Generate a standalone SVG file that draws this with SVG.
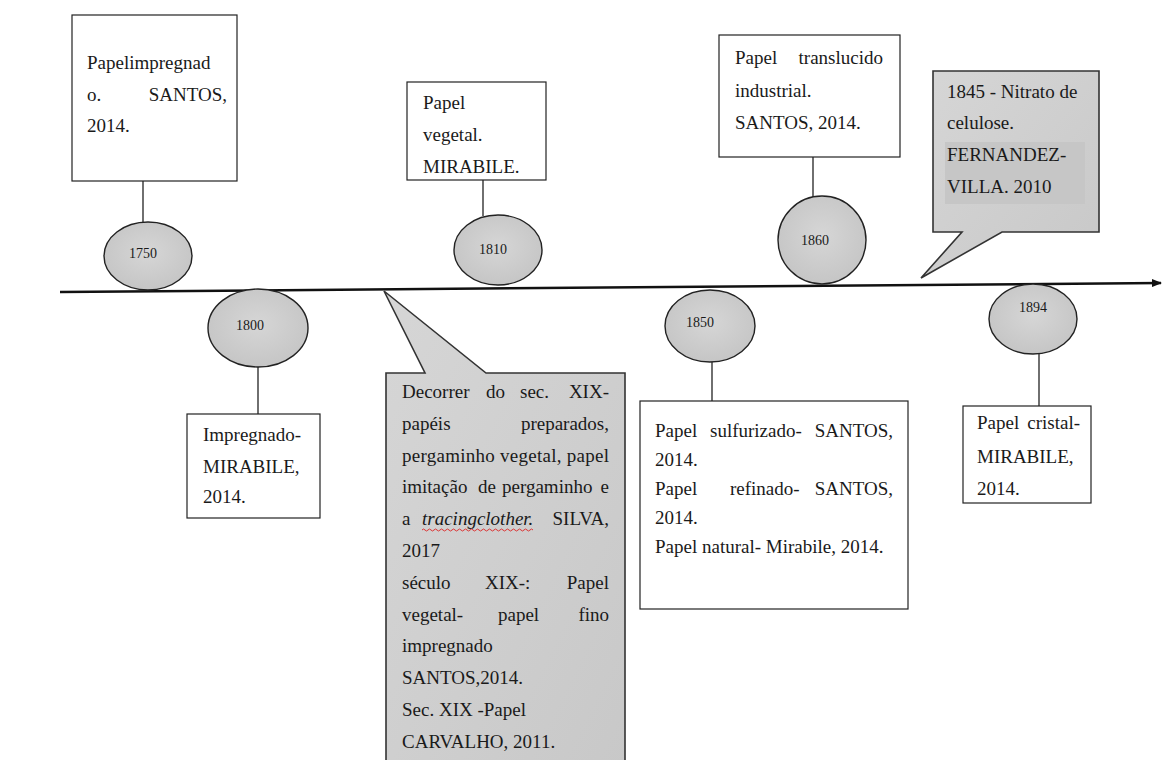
<svg xmlns="http://www.w3.org/2000/svg" width="1163" height="760" viewBox="0 0 1163 760">
<style>
.t{font-family:"Liberation Serif","Times New Roman",serif;font-size:19px;fill:#1a1a1a}
.y{font-family:"Liberation Serif","Times New Roman",serif;font-size:14px;fill:#1a1a1a;text-anchor:middle}
.e{text-anchor:end}
.box{fill:#fff;stroke:#222;stroke-width:1.2}
.ell{fill:url(#eg);stroke:#222;stroke-width:1.4}
.call{fill:url(#cg);stroke:#333;stroke-width:1.6}
.ln{stroke:#222;stroke-width:1.3;fill:none}
</style>
<defs>
<radialGradient id="eg" cx="50%" cy="45%" r="60%"><stop offset="0" stop-color="#d6d6d6"/><stop offset="1" stop-color="#c4c4c4"/></radialGradient>
<linearGradient id="cg" x1="0" y1="0" x2="1" y2="1"><stop offset="0" stop-color="#d6d6d6"/><stop offset="1" stop-color="#c8c8c8"/></linearGradient>
<marker id="ah" markerWidth="10" markerHeight="8" refX="9" refY="4" orient="auto" markerUnits="userSpaceOnUse"><path d="M0,0 L10,4 L0,8 Z" fill="#111"/></marker>
</defs>
<rect width="1163" height="760" fill="#fff"/>

<g id="connectors">
<line x1="60" y1="292" x2="1161" y2="283" stroke="#111" stroke-width="2.5" marker-end="url(#ah)"/>
<line class="ln" x1="143" y1="181" x2="143" y2="222"/>
<line class="ln" x1="258" y1="367" x2="258" y2="414"/>
<line class="ln" x1="483" y1="180" x2="483" y2="216"/>
<line class="ln" x1="712" y1="362" x2="712" y2="401"/>
<line class="ln" x1="813" y1="157" x2="813" y2="197"/>
<line class="ln" x1="1039" y1="354" x2="1039" y2="406"/>
</g>

<g id="y1750"><ellipse class="ell" cx="148" cy="256" rx="44" ry="34"/><text class="y" x="143" y="258">1750</text></g>
<g id="y1800"><ellipse class="ell" cx="258" cy="328" rx="50" ry="39"/><text class="y" x="250" y="330">1800</text></g>
<g id="y1810"><ellipse class="ell" cx="498" cy="250" rx="44" ry="35"/><text class="y" x="493" y="254">1810</text></g>
<g id="y1850"><ellipse class="ell" cx="710" cy="326" rx="45" ry="36"/><text class="y" x="700" y="327">1850</text></g>
<g id="y1860"><ellipse class="ell" cx="822" cy="240" rx="44" ry="44"/><text class="y" x="815" y="245">1860</text></g>
<g id="y1894"><ellipse class="ell" cx="1033" cy="319" rx="44" ry="35"/><text class="y" x="1033" y="312">1894</text></g>

<g id="n1750">
<rect class="box" x="72" y="15" width="165" height="166"/>
<text class="t" x="87" y="69">Papelimpregnad</text>
<text class="t" x="87" y="101">o.</text><text class="t e" x="227" y="101">SANTOS,</text>
<text class="t" x="87" y="132">2014.</text>
</g>

<g id="n1800">
<rect class="box" x="187" y="414" width="133" height="104"/>
<text class="t" x="203" y="441">Impregnado-</text>
<text class="t" x="203" y="473">MIRABILE,</text>
<text class="t" x="203" y="503">2014.</text>
</g>

<g id="n1810">
<rect class="box" x="407" y="82" width="139" height="98"/>
<text class="t" x="423" y="109">Papel</text>
<text class="t" x="423" y="141">vegetal.</text>
<text class="t" x="423" y="173">MIRABILE.</text>
</g>

<g id="n1800s">
<path class="call" d="M386,373 L425,373 L384,291 L486,373 L625,373 L625,772 L386,772 Z"/>
<text class="t" x="402" y="398">Decorrer</text><text class="t" x="486" y="398">do</text><text class="t" x="520" y="398">sec.</text><text class="t e" x="609" y="398">XIX-</text>
<text class="t" x="402" y="430">papéis</text><text class="t e" x="609" y="430">preparados,</text>
<text class="t" x="402" y="462" textLength="207" lengthAdjust="spacing">pergaminho vegetal, papel</text>
<text class="t" x="402" y="493">imitação</text><text class="t" x="478" y="493">de</text><text class="t" x="502" y="493">pergaminho</text><text class="t e" x="609" y="493">e</text>
<text class="t" x="402" y="525">a</text><text class="t" x="422" y="525" font-style="italic">tracingclother.</text><text class="t e" x="609" y="525">SILVA,</text>
<path d="M422,530 q1.5,-2 3,0 t3,0 t3,0 t3,0 t3,0 t3,0 t3,0 t3,0 t3,0 t3,0 t3,0 t3,0 t3,0 t3,0 t3,0 t3,0 t3,0 t3,0 t3,0 t3,0 t3,0 t3,0 t3,0 t3,0 t3,0 t3,0 t3,0 t3,0 t3,0 t3,0 t3,0 t3,0 t3,0 t3,0 t3,0 t3,0 t3,0" fill="none" stroke="#d33" stroke-width="1"/>
<text class="t" x="402" y="557">2017</text>
<text class="t" x="402" y="589">século</text><text class="t" x="485" y="589">XIX-:</text><text class="t e" x="609" y="589">Papel</text>
<text class="t" x="402" y="621">vegetal-</text><text class="t" x="498" y="621">papel</text><text class="t e" x="609" y="621">fino</text>
<text class="t" x="402" y="652">impregnado</text>
<text class="t" x="402" y="684">SANTOS,2014.</text>
<text class="t" x="402" y="716">Sec. XIX -Papel</text>
<text class="t" x="402" y="748">CARVALHO, 2011.</text>
</g>

<g id="n1850">
<rect class="box" x="640" y="401" width="268" height="208"/>
<text class="t" x="655" y="437">Papel</text><text class="t" x="710" y="437">sulfurizado-</text><text class="t e" x="893" y="437">SANTOS,</text>
<text class="t" x="655" y="466">2014.</text>
<text class="t" x="655" y="495">Papel</text><text class="t" x="730" y="495">refinado-</text><text class="t e" x="893" y="495">SANTOS,</text>
<text class="t" x="655" y="524">2014.</text>
<text class="t" x="655" y="553">Papel natural- Mirabile, 2014.</text>
</g>

<g id="n1860">
<rect class="box" x="719" y="35" width="181" height="122"/>
<text class="t" x="735" y="64">Papel</text><text class="t e" x="883" y="64">translucido</text>
<text class="t" x="735" y="97">industrial.</text>
<text class="t" x="735" y="129">SANTOS, 2014.</text>
</g>

<g id="n1845">
<path class="call" d="M933,71 L1099,71 L1099,232 L1002,232 L921,278 L962,232 L933,232 Z"/>
<rect x="945" y="142" width="140" height="62" fill="#c6c6c6"/>
<text class="t" x="947" y="98">1845 - Nitrato de</text>
<text class="t" x="947" y="129">celulose.</text>
<text class="t" x="947" y="161">FERNANDEZ-</text>
<text class="t" x="947" y="193">VILLA. 2010</text>
</g>

<g id="n1894">
<rect class="box" x="963" y="406" width="128" height="97"/>
<text class="t" x="977" y="429">Papel</text><text class="t e" x="1080" y="429">cristal-</text>
<text class="t" x="977" y="463">MIRABILE,</text>
<text class="t" x="977" y="495">2014.</text>
</g>
</svg>
